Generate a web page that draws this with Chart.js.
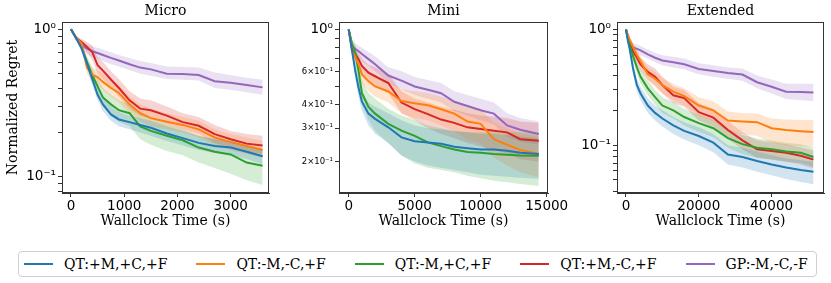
<!DOCTYPE html>
<html>
<head>
<meta charset="utf-8">
<script src="https://cdn.jsdelivr.net/npm/chart.js@4.4.1/dist/chart.umd.min.js"></script>
<style>
  body { margin: 0; background: #fff; }
  #wrap { position: relative; width: 831px; height: 283px; background: #fff; overflow: hidden; }
  #wrap canvas { position: absolute; top: 0; }
  #legend {
    position: absolute; left: 18px; top: 251px; width: 799px; height: 26px;
    border: 1px solid #d0d0d0; border-radius: 4px; box-sizing: border-box;
    display: flex; align-items: center; padding-left: 5px;
    font-family: "DejaVu Serif"; font-size: 14px; color: #000;
  }
  .item { display: flex; align-items: center; margin-right: 29px; white-space: nowrap; }
  .swatch { width: 29px; height: 2.5px; margin-right: 11px; }
</style>
</head>
<body>
<div id="wrap">
  <canvas id="micro" width="275" height="230" style="left:0px"></canvas>
  <canvas id="mini" width="305" height="230" style="left:275px"></canvas>
  <canvas id="ext" width="276" height="230" style="left:555px"></canvas>
  <div id="legend"></div>
</div>
<script>
// 시리즈 이름 / 색
const seriesNames = ['QT:+M,+C,+F', 'QT:-M,-C,+F', 'QT:-M,+C,+F', 'QT:+M,-C,+F', 'GP:-M,-C,-F'];
const seriesColors = ['#1f77b4', '#ff7f0e', '#2ca02c', '#d62728', '#9467bd'];
const bandColors = ['rgba(31,119,180,0.2)', 'rgba(255,127,14,0.2)', 'rgba(44,160,44,0.2)', 'rgba(214,39,40,0.2)', 'rgba(148,103,189,0.2)'];

/* Micro */
const microX = [0, 100, 200, 300, 400, 500, 600, 750, 900, 1100, 1300, 1500, 1800, 2100, 2400, 2700, 3000, 3300, 3600];
const microBlue     = [1.0, 0.87, 0.74, 0.59, 0.46, 0.36, 0.31, 0.265, 0.245, 0.235, 0.225, 0.215, 0.197, 0.183, 0.17, 0.162, 0.158, 0.148, 0.138];
const microBlueLo   = [1.0, 0.85, 0.70, 0.54, 0.42, 0.33, 0.28, 0.24, 0.22, 0.21, 0.20, 0.19, 0.175, 0.163, 0.152, 0.145, 0.14, 0.132, 0.122];
const microBlueHi   = [1.0, 0.89, 0.78, 0.64, 0.51, 0.40, 0.35, 0.30, 0.275, 0.26, 0.25, 0.24, 0.22, 0.205, 0.19, 0.18, 0.176, 0.165, 0.155];
const microOrange   = [1.0, 0.87, 0.80, 0.55, 0.49, 0.475, 0.44, 0.40, 0.37, 0.31, 0.27, 0.25, 0.236, 0.225, 0.21, 0.185, 0.172, 0.162, 0.152];
const microOrangeLo = [1.0, 0.84, 0.76, 0.50, 0.44, 0.42, 0.39, 0.35, 0.32, 0.27, 0.24, 0.22, 0.21, 0.20, 0.185, 0.165, 0.152, 0.143, 0.135];
const microOrangeHi = [1.0, 0.90, 0.84, 0.62, 0.55, 0.53, 0.50, 0.46, 0.42, 0.35, 0.31, 0.29, 0.27, 0.255, 0.24, 0.21, 0.195, 0.185, 0.175];
const microGreen    = [1.0, 0.87, 0.76, 0.60, 0.49, 0.41, 0.345, 0.31, 0.283, 0.27, 0.22, 0.205, 0.19, 0.177, 0.158, 0.148, 0.142, 0.125, 0.119];
const microGreenLo  = [1.0, 0.85, 0.72, 0.55, 0.44, 0.36, 0.30, 0.26, 0.235, 0.22, 0.18, 0.165, 0.15, 0.14, 0.125, 0.115, 0.105, 0.095, 0.088];
const microGreenHi  = [1.0, 0.89, 0.80, 0.66, 0.55, 0.47, 0.40, 0.36, 0.33, 0.31, 0.27, 0.25, 0.23, 0.21, 0.19, 0.18, 0.175, 0.16, 0.155];
const microRed      = [1.0, 0.87, 0.82, 0.76, 0.70, 0.57, 0.525, 0.457, 0.40, 0.33, 0.29, 0.283, 0.26, 0.235, 0.222, 0.195, 0.18, 0.168, 0.163];
const microRedLo    = [1.0, 0.84, 0.78, 0.70, 0.62, 0.50, 0.46, 0.40, 0.35, 0.29, 0.26, 0.25, 0.23, 0.21, 0.195, 0.17, 0.158, 0.148, 0.143];
const microRedHi    = [1.0, 0.90, 0.86, 0.82, 0.78, 0.65, 0.60, 0.52, 0.46, 0.38, 0.34, 0.33, 0.30, 0.27, 0.255, 0.225, 0.205, 0.195, 0.19];
const microPurple   = [1.0, 0.86, 0.78, 0.74, 0.71, 0.69, 0.67, 0.64, 0.615, 0.58, 0.55, 0.535, 0.50, 0.497, 0.49, 0.445, 0.435, 0.42, 0.404];
const microPurpleLo = [1.0, 0.82, 0.73, 0.68, 0.65, 0.63, 0.61, 0.58, 0.56, 0.53, 0.50, 0.485, 0.46, 0.455, 0.45, 0.40, 0.39, 0.375, 0.36];
const microPurpleHi = [1.0, 0.90, 0.83, 0.79, 0.76, 0.75, 0.73, 0.70, 0.67, 0.64, 0.61, 0.59, 0.56, 0.555, 0.55, 0.51, 0.49, 0.47, 0.455];
const microXTicks = [0, 1000, 2000, 3000];
const microYTicks = [0.08, 0.09, 0.1, 0.2, 0.3, 0.4, 0.5, 0.6, 0.7, 0.8, 0.9, 1];
const microYLabels = ['', '', '10⁻¹', '', '', '', '', '', '', '', '', '10⁰'];

/* Mini */
const miniX = [0, 250, 500, 750, 1000, 1500, 2000, 3000, 4000, 5000, 6000, 7000, 8000, 9000, 10000, 11000, 12000, 13000, 14400];
const miniBlue     = [1.0, 0.773, 0.602, 0.489, 0.414, 0.358, 0.336, 0.303, 0.268, 0.256, 0.252, 0.248, 0.239, 0.235, 0.231, 0.231, 0.228, 0.222, 0.219];
const miniBlueLo   = [1.0, 0.73, 0.55, 0.44, 0.37, 0.31, 0.28, 0.25, 0.215, 0.2, 0.19, 0.185, 0.18, 0.175, 0.17, 0.168, 0.166, 0.164, 0.162];
const miniBlueHi   = [1.0, 0.82, 0.66, 0.55, 0.47, 0.41, 0.39, 0.36, 0.33, 0.31, 0.30, 0.295, 0.29, 0.285, 0.28, 0.28, 0.275, 0.27, 0.265];
const miniOrange   = [1.0, 0.773, 0.711, 0.654, 0.577, 0.531, 0.499, 0.469, 0.418, 0.406, 0.397, 0.378, 0.358, 0.325, 0.316, 0.262, 0.245, 0.23, 0.219];
const miniOrangeLo = [1.0, 0.74, 0.66, 0.60, 0.52, 0.47, 0.44, 0.41, 0.36, 0.34, 0.33, 0.31, 0.29, 0.26, 0.25, 0.21, 0.19, 0.175, 0.165];
const miniOrangeHi = [1.0, 0.81, 0.76, 0.71, 0.64, 0.59, 0.56, 0.53, 0.48, 0.47, 0.46, 0.44, 0.42, 0.39, 0.38, 0.32, 0.30, 0.28, 0.27];
const miniGreen    = [1.0, 0.84, 0.75, 0.60, 0.46, 0.389, 0.358, 0.316, 0.291, 0.273, 0.252, 0.241, 0.231, 0.224, 0.222, 0.219, 0.217, 0.215, 0.214];
const miniGreenLo  = [1.0, 0.78, 0.66, 0.52, 0.40, 0.33, 0.29, 0.25, 0.215, 0.195, 0.185, 0.18, 0.175, 0.168, 0.163, 0.158, 0.155, 0.152, 0.148];
const miniGreenHi  = [1.0, 0.89, 0.84, 0.70, 0.54, 0.46, 0.43, 0.38, 0.35, 0.33, 0.31, 0.30, 0.29, 0.285, 0.285, 0.285, 0.285, 0.285, 0.285];
const miniRed      = [1.0, 0.789, 0.741, 0.696, 0.641, 0.59, 0.565, 0.52, 0.41, 0.378, 0.356, 0.333, 0.32, 0.303, 0.297, 0.291, 0.285, 0.262, 0.257];
const miniRedLo    = [1.0, 0.75, 0.69, 0.64, 0.58, 0.53, 0.50, 0.46, 0.36, 0.33, 0.30, 0.28, 0.265, 0.25, 0.24, 0.23, 0.22, 0.205, 0.2];
const miniRedHi    = [1.0, 0.83, 0.79, 0.75, 0.70, 0.65, 0.63, 0.58, 0.47, 0.43, 0.41, 0.39, 0.375, 0.36, 0.35, 0.345, 0.34, 0.325, 0.32];
const miniPurple   = [1.0, 0.822, 0.789, 0.766, 0.741, 0.696, 0.654, 0.57, 0.536, 0.499, 0.479, 0.459, 0.414, 0.393, 0.373, 0.358, 0.31, 0.294, 0.279];
const miniPurpleLo = [1.0, 0.78, 0.74, 0.71, 0.68, 0.64, 0.60, 0.52, 0.48, 0.45, 0.43, 0.41, 0.37, 0.35, 0.33, 0.315, 0.27, 0.255, 0.245];
const miniPurpleHi = [1.0, 0.86, 0.84, 0.82, 0.80, 0.76, 0.72, 0.63, 0.60, 0.56, 0.54, 0.52, 0.47, 0.45, 0.43, 0.41, 0.36, 0.34, 0.325];
const miniXTicks = [0, 5000, 10000, 15000];
const miniYTicks = [0.2, 0.3, 0.4, 0.5, 0.6, 0.7, 0.8, 0.9, 1];
const miniYLabels = ['2×10⁻¹', '3×10⁻¹', '4×10⁻¹', '', '6×10⁻¹', '', '', '', '10⁰'];

/* Extended */
const extX = [0, 500, 1000, 2000, 3000, 4000, 6000, 8000, 10000, 13000, 16000, 20000, 24000, 28000, 32000, 36000, 40000, 44000, 48000, 51500];
const extBlue     = [1.0, 0.8, 0.68, 0.45, 0.33, 0.28, 0.22, 0.19, 0.17, 0.148, 0.133, 0.12, 0.105, 0.083, 0.079, 0.073, 0.068, 0.064, 0.061, 0.059];
const extBlueLo   = [1.0, 0.75, 0.62, 0.40, 0.29, 0.245, 0.19, 0.163, 0.145, 0.125, 0.112, 0.1, 0.087, 0.068, 0.064, 0.059, 0.055, 0.051, 0.048, 0.046];
const extBlueHi   = [1.0, 0.85, 0.74, 0.50, 0.37, 0.32, 0.255, 0.22, 0.2, 0.175, 0.158, 0.143, 0.125, 0.1, 0.095, 0.088, 0.082, 0.077, 0.074, 0.072];
const extOrange   = [1.0, 0.9, 0.82, 0.7, 0.6, 0.53, 0.41, 0.375, 0.33, 0.29, 0.265, 0.22, 0.2, 0.163, 0.16, 0.158, 0.14, 0.135, 0.132, 0.13];
const extOrangeLo = [1.0, 0.86, 0.77, 0.64, 0.54, 0.47, 0.36, 0.32, 0.28, 0.245, 0.22, 0.18, 0.16, 0.13, 0.125, 0.12, 0.105, 0.1, 0.098, 0.096];
const extOrangeHi = [1.0, 0.94, 0.87, 0.76, 0.66, 0.59, 0.47, 0.43, 0.38, 0.34, 0.31, 0.26, 0.24, 0.195, 0.19, 0.188, 0.17, 0.167, 0.165, 0.165];
const extGreen    = [1.0, 0.85, 0.74, 0.58, 0.47, 0.39, 0.31, 0.26, 0.22, 0.2, 0.175, 0.155, 0.14, 0.115, 0.102, 0.095, 0.092, 0.088, 0.086, 0.079];
const extGreenLo  = [1.0, 0.81, 0.69, 0.52, 0.42, 0.34, 0.27, 0.225, 0.19, 0.17, 0.148, 0.13, 0.117, 0.095, 0.084, 0.078, 0.075, 0.072, 0.07, 0.065];
const extGreenHi  = [1.0, 0.89, 0.79, 0.64, 0.53, 0.45, 0.36, 0.3, 0.26, 0.235, 0.205, 0.183, 0.165, 0.138, 0.122, 0.114, 0.11, 0.105, 0.102, 0.095];
const extRed      = [1.0, 0.88, 0.77, 0.64, 0.57, 0.5, 0.43, 0.39, 0.33, 0.27, 0.255, 0.193, 0.173, 0.135, 0.11, 0.092, 0.089, 0.086, 0.081, 0.075];
const extRedLo    = [1.0, 0.84, 0.72, 0.58, 0.51, 0.44, 0.37, 0.33, 0.28, 0.23, 0.215, 0.163, 0.145, 0.113, 0.092, 0.078, 0.075, 0.072, 0.068, 0.063];
const extRedHi    = [1.0, 0.92, 0.82, 0.70, 0.64, 0.57, 0.5, 0.46, 0.39, 0.32, 0.3, 0.23, 0.205, 0.16, 0.13, 0.11, 0.106, 0.102, 0.096, 0.09];
const extPurple   = [1.0, 0.85, 0.76, 0.7, 0.68, 0.66, 0.61, 0.57, 0.54, 0.52, 0.5, 0.455, 0.437, 0.42, 0.408, 0.35, 0.32, 0.29, 0.288, 0.285];
const extPurpleLo = [1.0, 0.8, 0.71, 0.64, 0.62, 0.6, 0.56, 0.52, 0.49, 0.47, 0.45, 0.41, 0.39, 0.375, 0.36, 0.31, 0.28, 0.25, 0.245, 0.24];
const extPurpleHi = [1.0, 0.9, 0.82, 0.76, 0.74, 0.72, 0.67, 0.63, 0.6, 0.58, 0.56, 0.51, 0.49, 0.47, 0.46, 0.4, 0.37, 0.34, 0.34, 0.34];
const extXTicks = [0, 20000, 40000];
const extYTicks = [0.04, 0.05, 0.06, 0.07, 0.08, 0.09, 0.1, 0.2, 0.3, 0.4, 0.5, 0.6, 0.7, 0.8, 0.9, 1];
const extYLabels = ['', '', '', '', '', '', '10⁻¹', '', '', '', '', '', '', '', '', '10⁰'];


// 축 테두리 (위/오른쪽 포함)
const framePlugin = {
    id: 'frame',
    afterDraw(chart) {
        const a = chart.chartArea;
        const c = chart.ctx;
        c.save();
        c.strokeStyle = '#333';
        c.lineWidth = 1;
        c.strokeRect(Math.round(a.left) + 0.5, Math.round(a.top) + 0.5, Math.round(a.right - a.left) - 1, Math.round(a.bottom - a.top) - 1);
        c.restore();
    }
};

function toPoints(xs, ys) {
    return xs.map((x, i) => ({ x: x, y: ys[i] }));
}

function drawPanel(id, opt) {
    const ctx = document.getElementById(id).getContext('2d');
    const datasets = [];

    // 밴드 먼저 (lo, hi 순서로, hi 가 lo 까지 채움)
    for (let s = 0; s < 5; s++) {
        datasets.push({
            data: toPoints(opt.x, opt.lo[s]),
            borderWidth: 0, pointRadius: 0, fill: false
        });
        datasets.push({
            data: toPoints(opt.x, opt.hi[s]),
            borderWidth: 0, pointRadius: 0,
            fill: '-1', backgroundColor: bandColors[s]
        });
    }
    // 평균 선
    for (let s = 0; s < 5; s++) {
        datasets.push({
            label: seriesNames[s],
            data: toPoints(opt.x, opt.mean[s]),
            borderColor: seriesColors[s], borderWidth: 2,
            pointRadius: 0, fill: false
        });
    }

    new Chart(ctx, {
        type: 'line',
        data: { datasets: datasets },
        plugins: [framePlugin],
        options: {
            responsive: false,
            animation: false,
            devicePixelRatio: 1,
            layout: { padding: { left: 0, right: opt.padRight, top: 0, bottom: 0 } },
            plugins: {
                legend: { display: false },
                tooltip: { enabled: false },
                filler: { drawTime: 'beforeDatasetsDraw' },
                title: {
                    display: true, text: opt.title, fullSize: false,
                    color: '#000', font: { family: 'DejaVu Serif', size: 14, weight: 'normal' },
                    padding: { top: 3, bottom: 2.2 }
                }
            },
            scales: {
                x: {
                    type: 'linear', min: opt.xMin, max: opt.xMax,
                    afterBuildTicks: sc => { sc.ticks = opt.xTicks.map(v => ({ value: v })); },
                    afterFit: sc => { sc.height = 37; },
                    ticks: {
                        autoSkip: false, maxRotation: 0, padding: 1, color: '#000',
                        font: { family: 'DejaVu Sans', size: 13.5 },
                        callback: v => String(v)
                    },
                    grid: { drawOnChartArea: false, tickLength: 4, color: '#333' },
                    border: { color: '#333' },
                    title: {
                        display: true, text: 'Wallclock Time (s)', color: '#000',
                        font: { family: 'DejaVu Serif', size: 14 },
                        padding: { top: 0, bottom: 0 }
                    }
                },
                y: {
                    type: 'logarithmic', min: opt.yMin, max: opt.yMax,
                    afterBuildTicks: sc => { sc.ticks = opt.yTicks.map(v => ({ value: v })); },
                    afterFit: sc => { sc.width = opt.yWidth; },
                    ticks: {
                        autoSkip: false, padding: 2, color: '#000',
                        font: c => ({ family: 'DejaVu Sans', size: (opt.yLabels[c.index] || '').indexOf('×') >= 0 ? 8.5 : 13.5 }),
                        callback: (v, i) => opt.yLabels[i]
                    },
                    grid: { drawOnChartArea: false, tickLength: 4, color: '#333' },
                    border: { color: '#333' },
                    title: {
                        display: opt.yTitle, text: 'Normalized Regret', color: '#000',
                        font: { family: 'DejaVu Serif', size: 14 },
                        padding: { top: 4.6, bottom: 0 }
                    }
                }
            }
        }
    });
}

drawPanel('micro', {
    title: 'Micro', x: microX,
    mean: [microBlue, microOrange, microGreen, microRed, microPurple],
    lo: [microBlueLo, microOrangeLo, microGreenLo, microRedLo, microPurpleLo],
    hi: [microBlueHi, microOrangeHi, microGreenHi, microRedHi, microPurpleHi],
    xMin: -169, xMax: 3720, xTicks: microXTicks,
    yMin: 0.0778, yMax: 1.12, yTicks: microYTicks, yLabels: microYLabels,
    yWidth: 62, padRight: 6, yTitle: true
});

drawPanel('mini', {
    title: 'Mini', x: miniX,
    mean: [miniBlue, miniOrange, miniGreen, miniRed, miniPurple],
    lo: [miniBlueLo, miniOrangeLo, miniGreenLo, miniRedLo, miniPurpleLo],
    hi: [miniBlueHi, miniOrangeHi, miniGreenHi, miniRedHi, miniPurpleHi],
    xMin: -735, xMax: 15100, xTicks: miniXTicks,
    yMin: 0.136, yMax: 1.095, yTicks: miniYTicks, yLabels: miniYLabels,
    yWidth: 64, padRight: 32, yTitle: false
});

drawPanel('ext', {
    title: 'Extended', x: extX,
    mean: [extBlue, extOrange, extGreen, extRed, extPurple],
    lo: [extBlueLo, extOrangeLo, extGreenLo, extRedLo, extPurpleLo],
    hi: [extBlueHi, extOrangeHi, extGreenHi, extRedHi, extPurpleHi],
    xMin: -2470, xMax: 54400, xTicks: extXTicks,
    yMin: 0.0386, yMax: 1.16, yTicks: extYTicks, yLabels: extYLabels,
    yWidth: 62, padRight: 7, yTitle: false
});

// 범례
const legendDiv = document.getElementById('legend');
for (let s = 0; s < seriesNames.length; s++) {
    const item = document.createElement('div');
    item.classList.add('item');
    const sw = document.createElement('div');
    sw.classList.add('swatch');
    sw.style.background = seriesColors[s];
    const txt = document.createElement('span');
    txt.innerText = seriesNames[s];
    item.append(sw, txt);
    legendDiv.append(item);
}
</script>
</body>
</html>
